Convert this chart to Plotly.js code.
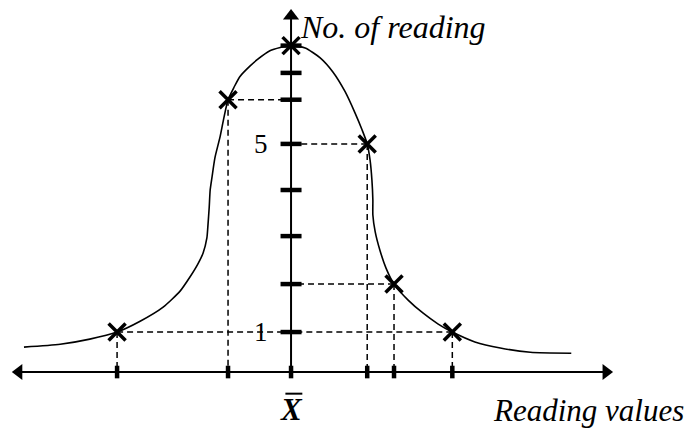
<!DOCTYPE html>
<html>
<head>
<meta charset="utf-8">
<script src="https://cdn.plot.ly/plotly-3.0.1.min.js"></script>
<style>
body { margin: 0; background: #fff; }
#graph { width: 686px; height: 428px; }
</style>
</head>
<body>
<div id="graph"></div>
<script>
// bell curve (x: reading value, X-bar at 0; y: no. of readings)
const curve_x = [-5.68, -4.91, -4.28, -3.70, -3.21, -2.72, -2.36, -2.15, -1.98, -1.87, -1.79, -1.77, -1.74, -1.72, -1.68,
    -1.62, -1.51, -1.43, -1.34, -1.21, -1.09, -0.87, -0.72, -0.45, -0.23, 0, 0.30, 0.62, 0.89, 1.15, 1.36, 1.51, 1.62,
    1.68, 1.72, 1.74, 1.74, 1.79, 1.89, 2.02, 2.19, 2.49, 2.81, 3.13, 3.43, 3.91, 4.45, 5.09, 5.96];
const curve_y = [0.68, 0.74, 0.85, 1.00, 1.23, 1.53, 1.87, 2.17, 2.45, 2.68, 3.00, 3.23, 3.66, 4.02, 4.30,
    4.70, 5.15, 5.55, 5.94, 6.21, 6.43, 6.66, 6.79, 6.98, 7.05, 7.09, 7.04, 6.83, 6.53, 6.11, 5.66, 5.30, 5.00,
    4.66, 4.23, 3.81, 3.49, 3.13, 2.74, 2.36, 2.02, 1.68, 1.40, 1.17, 1.00, 0.79, 0.66, 0.57, 0.55];

// the readings marked with crosses
const read_x = [-3.70, -1.34, 0, 1.62, 2.19, 3.43];
const read_y = [1.00, 5.94, 7.09, 5.00, 2.02, 1.00];

// tick marks on the count axis and their labels
const count_ticks = [1, 2.02, 3.04, 4.02, 5, 5.94, 6.51, 7.09];
const count_labels = [[1, '1'], [5, '5']];

const axis_y = 0.15;               // where the reading axis crosses
const axis_x_ends = [-5.79, 6.70];
const axis_y_top = 7.72;

const y_title = 'No. of reading';
const x_title = 'Reading values';
const mean_label = 'X';

const serif = "'Times New Roman', 'Liberation Serif', serif";

function dashed_lines() {
    let traces = [];
    read_x.forEach((x, i) => {
        if (x === 0) return;
        let y = read_y[i];
        traces.push({
            x: [x, 0], y: [y, y], mode: 'lines', type: 'scatter',
            line: { color: 'black', width: 1.5, dash: '6px,4px' }, hoverinfo: 'skip'
        });
        traces.push({
            x: [x, x], y: [y, axis_y], mode: 'lines', type: 'scatter',
            line: { color: 'black', width: 1.5, dash: '6px,4px' }, hoverinfo: 'skip'
        });
    });
    return traces;
}

function plot_bell() {
    let traces = dashed_lines();

    // the two axes
    traces.push({
        x: axis_x_ends, y: [axis_y, axis_y], mode: 'lines', type: 'scatter',
        line: { color: 'black', width: 2 }
    });
    traces.push({
        x: [0, 0], y: [axis_y, axis_y_top], mode: 'lines', type: 'scatter',
        line: { color: 'black', width: 2 }
    });
    // arrow heads
    traces.push({
        x: [axis_x_ends[0], axis_x_ends[1], 0], y: [axis_y, axis_y, axis_y_top], mode: 'markers', type: 'scatter',
        marker: { symbol: ['triangle-left', 'triangle-right', 'triangle-up'], size: 14, color: 'black',
            line: { width: 0 } }
    });
    // tick bars
    traces.push({
        x: count_ticks.map(() => 0), y: count_ticks, mode: 'markers', type: 'scatter',
        marker: { symbol: 'line-ew', size: 15, line: { color: 'black', width: 4.5 } }
    });
    traces.push({
        x: read_x, y: read_x.map(() => axis_y), mode: 'markers', type: 'scatter',
        marker: { symbol: 'line-ns', size: 9, line: { color: 'black', width: 4.5 } }
    });
    // the curve
    traces.push({
        x: curve_x, y: curve_y, mode: 'lines', type: 'scatter',
        line: { color: 'black', width: 1.6, shape: 'spline', smoothing: 0.6 }
    });
    // crosses
    traces.push({
        x: read_x, y: read_y, mode: 'markers', type: 'scatter',
        marker: { symbol: 'x-thin', size: 17, line: { color: 'black', width: 3.5 } }
    });

    let annotations = count_labels.map(([v, t]) => ({
        x: -0.44, y: v, xanchor: 'right', yanchor: 'middle', text: t, showarrow: false,
        font: { family: serif, size: 27, color: 'black' }
    }));
    annotations.push({
        x: 0.15, y: 7.49, xanchor: 'left', yanchor: 'middle', text: '<i>' + y_title + '</i>', showarrow: false,
        font: { family: serif, size: 32, color: 'black' }
    });
    annotations.push({
        x: 8.40, y: -0.66, xanchor: 'right', yanchor: 'middle', text: '<i>' + x_title + '</i>', showarrow: false,
        font: { family: serif, size: 31, color: 'black' }
    });
    annotations.push({
        x: 0.02, y: -0.65, xanchor: 'center', yanchor: 'middle', text: '<b><i>' + mean_label + '</i></b>',
        showarrow: false, font: { family: serif, size: 31, color: 'black' }
    });

    let layout = {
        width: 686,
        height: 428,
        margin: { l: 0, r: 0, t: 0, b: 0 },
        paper_bgcolor: 'white',
        plot_bgcolor: 'white',
        showlegend: false,
        xaxis: { range: [-6.19, 8.40], visible: false, fixedrange: true },
        yaxis: { range: [-1.04, 8.06], visible: false, fixedrange: true },
        annotations: annotations,
        // bar over the X (mean)
        shapes: [{
            type: 'line', xref: 'x', yref: 'y', x0: -0.12, x1: 0.24, y0: -0.31, y1: -0.31,
            line: { color: 'black', width: 2 }
        }]
    };

    Plotly.newPlot('graph', traces, layout, { staticPlot: true });
}

plot_bell();
</script>
</body>
</html>
